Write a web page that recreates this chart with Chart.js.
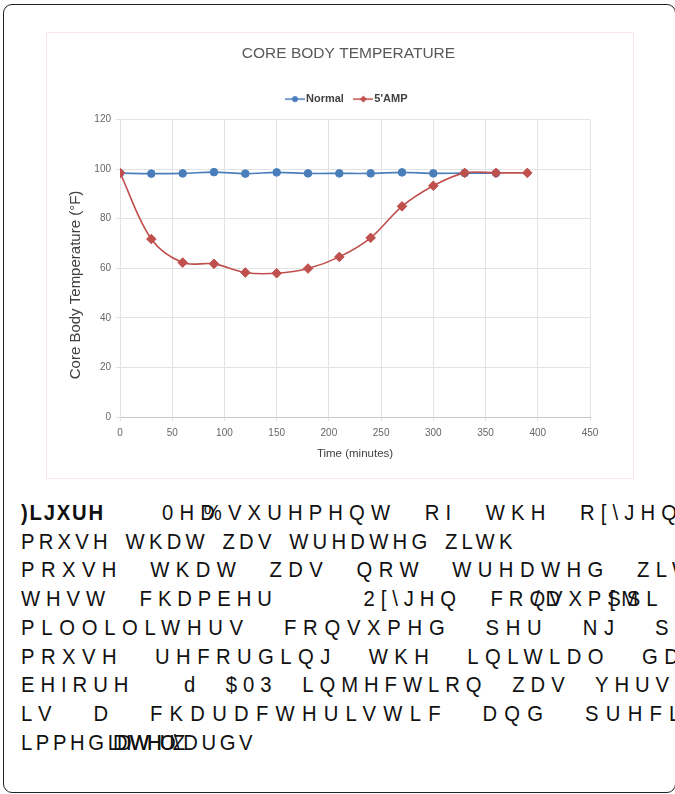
<!DOCTYPE html>
<html>
<head>
   <meta charset="UTF-8">
   <title>Core Body Temperature</title>
   <script src="https://cdn.jsdelivr.net/npm/chart.js@4.4.1/dist/chart.umd.min.js"></script>
   <style>
      html, body { margin: 0; padding: 0; background: #fff; overflow: hidden; }
      body { width: 675px; height: 794px; position: relative; }
      #card {
         position: absolute; left: 3px; top: 4px;
         width: 671px; height: 787px;
         border: 1.5px solid #222; border-radius: 9px;
         overflow: hidden;
      }
      #chartBox {
         position: absolute; left: 42px; top: 27px;
         width: 586px; height: 445px;
         border: 1px solid #f6e8e4;
      }
      .row {
         position: absolute; left: 17px; white-space: pre;
         font-family: "Liberation Sans", Arial, sans-serif;
         font-size: 22.5px; letter-spacing: 4px; line-height: 26px; color: #111;
         transform: scaleX(0.9); transform-origin: 0 0;
      }
      .row b { letter-spacing: 2px; }
      .ov { margin-left: -19px; }
      .tight { letter-spacing: -2px; }
   </style>
</head>
<body>
   <div id="card">
      <div id="chartBox"><canvas id="chart" width="586" height="445"></canvas></div>
   </div>

   <script>
      // values
      const times = [0, 30, 60, 90, 120, 150, 180, 210, 240, 270, 300, 330, 360, 390];
      const normal = [98.4, 98.2, 98.3, 98.8, 98.2, 98.7, 98.3, 98.3, 98.3, 98.7, 98.3, 98.4, 98.4];
      const amp = [98.5, 71.8, 62.3, 61.8, 58.3, 58.0, 59.9, 64.6, 72.3, 85.0, 93.3, 98.5, 98.5, 98.5];
      const xTicks = [0, 50, 100, 150, 200, 250, 300, 350, 400, 450];
      const yTicks = [0, 20, 40, 60, 80, 100, 120];

      // caption rows: x where the last word starts in the picture (0 = leave as is),
      // x where the second word starts (0 = normal gap), and the words as html snippets
      const captionRows = [
         [580, 162, ["<b>)LJXUH</b>", "0HD<span class='ov'>%</span>VXUHPHQW", "RI", "WKH", "R[\\JHQ"]],
         [445, 0, ["PRXVH", "WKDW", "ZDV", "WUHDWHG", "ZLWK"]],
         [637, 0, ["PRXVH", "WKDW", "ZDV", "QRW", "WUHDWHG", "ZLWK"]],
         [490, 0, ["WHVW", "FKDPEHU", "  2[\\JHQ",
                   "FRQ<span class='ov'>/</span>D<span class='ov'>V</span>XPS<span class='ov'>[</span>M<span class='ov'>S</span>L"]],
         [655, 0, ["PLOOLOLWHUV", "FRQVXPHG", "SHU", "NJ", "SHU"]],
         [642, 0, ["PRXVH", "UHFRUGLQJ", "WKH", "LQLWLDO", "GDWD"]],
         [595, 0, ["EHIRUH", " d", "$03", "LQMHFWLRQ", "ZDV", "YHUV"]],
         [585, 0, ["LV", "D", "FKDUDFWHULVWLF", "DQG", "SUHFLVH"]],
         [0, 0, ["LPPHG<span class='tight'>LDWHO\\</span><span class='tight' style='margin-left:-72px'>DIWHUZ</span>DUGV"]]
      ];

      const SX = 0.9;
      const card = document.getElementById("card");
      const leftOf = el => el.getBoundingClientRect().left;

      captionRows.forEach(([target, second, words], r) => {
         const row = document.createElement("div");
         row.className = "row";
         row.style.top = (495 + r * 28.7) + "px";
         row.innerHTML = words.map(w => "<span>" + w + "</span>").join(" ");
         card.appendChild(row);
         if (!target) return;

         // justify: half of the missing room goes into the letters, half into the word gaps
         const spans = Array.from(row.children);
         const last = spans[spans.length - 1];
         const from = second ? 1 : 0;
         let n = 0;
         for (let i = from; i < spans.length - 1; i++) n += spans[i].textContent.length + 1;
         const gaps = spans.length - 1 - from;
         let ls = 4, ws = 0, gap = 0;
         for (let it = 0; it < 5; it++) {
            if (second) {
               gap += (second - leftOf(spans[1])) / SX;
               spans[0].style.marginRight = gap + "px";
            }
            const diff = (target - leftOf(last)) / SX;
            ls += diff * 0.5 / n;
            ws += diff * 0.5 / gaps;
            row.style.letterSpacing = ls + "px";
            row.style.wordSpacing = ws + "px";
         }
      });

      const BLUE = "#4a7ebb";
      const RED = "#c0504d";

      function toPoints(values) {
         return values.map((v, i) => ({ x: times[i], y: v }));
      }

      // small legend swatch: line with a marker in the middle
      function swatch(color, diamond) {
         const c = document.createElement("canvas");
         c.width = 20; c.height = 10;
         const g = c.getContext("2d");
         g.strokeStyle = color; g.fillStyle = color; g.lineWidth = 1.5;
         g.beginPath(); g.moveTo(0, 5); g.lineTo(20, 5); g.stroke();
         g.beginPath();
         if (diamond) {
            g.moveTo(10, 1.5); g.lineTo(13.5, 5); g.lineTo(10, 8.5); g.lineTo(6.5, 5);
         } else {
            g.arc(10, 5, 3, 0, Math.PI * 2);
         }
         g.fill();
         return c;
      }

      // push the plot down a little below the legend, and centre title/legend like the picture
      const layoutTweaks = {
         id: "layoutTweaks",
         beforeInit(ch) {
            const fit = ch.legend.fit;
            ch.legend.fit = function () {
               fit.bind(ch.legend)();
               this.height += 5;
            };
         },
         afterLayout(ch) {
            for (const box of [ch.titleBlock, ch.legend]) {
               box.left += 22;
               box.right += 22;
            }
         }
      };

      const font = "Liberation Sans, Arial, sans-serif";

      const chart = new Chart(document.getElementById("chart"), {
         type: "line",
         data: {
            datasets: [
               {
                  label: "Normal",
                  data: toPoints(normal),
                  order: 1,
                  borderColor: BLUE, backgroundColor: BLUE,
                  borderWidth: 1.6, tension: 0.35,
                  pointStyle: "circle", pointRadius: 3.8, pointHoverRadius: 3.8, pointBorderWidth: 1,
                  legendSwatch: swatch(BLUE, false)
               },
               {
                  label: "5'AMP",
                  data: toPoints(amp),
                  order: 0,
                  borderColor: RED, backgroundColor: RED,
                  borderWidth: 1.6, tension: 0.35,
                  pointStyle: "rectRot", pointRadius: 4.8, pointHoverRadius: 4.8, pointBorderWidth: 1,
                  legendSwatch: swatch(RED, true)
               }
            ]
         },
         plugins: [layoutTweaks],
         options: {
            responsive: false,
            animation: false,
            layout: { padding: { left: 16, right: 43, top: 8, bottom: 4 } },
            plugins: {
               tooltip: { enabled: false },
               title: {
                  display: true,
                  text: "CORE BODY TEMPERATURE",
                  color: "#595959",
                  font: { family: font, size: 15.5, weight: "normal" },
                  padding: { top: 3, bottom: 17 }
               },
               legend: {
                  labels: {
                     usePointStyle: true,
                     color: "#404040",
                     font: { family: font, size: 11, weight: "bold" },
                     boxWidth: 20, boxHeight: 10, padding: 14,
                     generateLabels(ch) {
                        return ch.data.datasets.map((ds, i) => ({
                           text: ds.label,
                           pointStyle: ds.legendSwatch,
                           fillStyle: ds.borderColor,
                           strokeStyle: ds.borderColor,
                           fontColor: "#404040",
                           datasetIndex: i,
                           hidden: false
                        }));
                     }
                  }
               }
            },
            scales: {
               x: {
                  type: "linear",
                  min: 0, max: 450,
                  afterBuildTicks(s) { s.ticks = xTicks.map(v => ({ value: v })); },
                  afterFit(s) { s.height = 57; },
                  grid: { color: "#e3e3e3", tickLength: 4 },
                  border: { color: "#c8c8c8" },
                  ticks: { color: "#666", font: { family: font, size: 10 }, padding: 6 },
                  title: {
                     display: true, text: "Time (minutes)", color: "#404040",
                     font: { family: font, size: 11.5 }, padding: { top: 4, bottom: 13 }
                  }
               },
               y: {
                  min: 0, max: 120,
                  afterBuildTicks(s) { s.ticks = yTicks.map(v => ({ value: v })); },
                  afterFit(s) { s.width = 57; },
                  grid: { color: "#e3e3e3", tickLength: 4 },
                  border: { color: "#e3e3e3" },
                  ticks: { color: "#666", font: { family: font, size: 10 }, padding: 5 },
                  title: {
                     display: true,
                     // trailing blanks shift the rotated label down, as in the picture
                     text: "Core Body Temperature (\u00B0F)" + "\u00A0".repeat(8),
                     color: "#404040",
                     font: { family: font, size: 15 }, padding: { bottom: 4 }
                  }
               }
            }
         }
      });
   </script>
</body>
</html>
